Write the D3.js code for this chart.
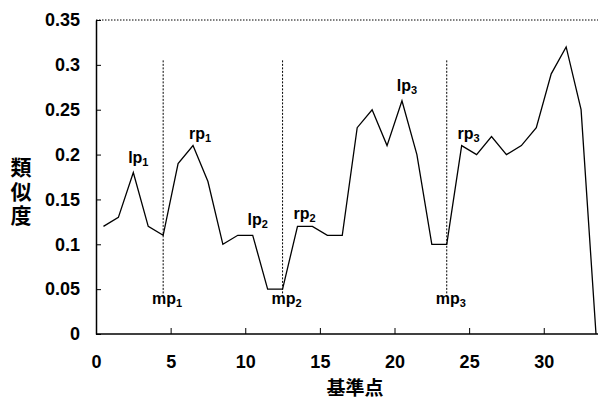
<!DOCTYPE html>
<html>
<head>
<meta charset="utf-8">
<script src="https://cdn.jsdelivr.net/npm/d3@7"></script>
<style>
  body { margin: 0; background: #fff; }
  svg text { font-family: "Liberation Sans", Arial, sans-serif; }
  .cjk { font-family: "Noto Sans CJK JP", sans-serif; font-weight: bold; }
</style>
</head>
<body>
<div id="chart"></div>
<script>
// similarity at each reference point (plotted at i + 0.5)
const points = d3.range(0.5, 34, 1);
const similarity = [0.12, 0.13, 0.18, 0.12, 0.11, 0.19, 0.21, 0.17, 0.10, 0.11,
                    0.11, 0.05, 0.05, 0.12, 0.12, 0.11, 0.11, 0.23, 0.25, 0.21,
                    0.26, 0.20, 0.10, 0.10, 0.21, 0.20, 0.22, 0.20, 0.21, 0.23,
                    0.29, 0.32, 0.25, 0.00];
const xTicks = [0, 5, 10, 15, 20, 25, 30];
const yTicks = [0, 0.05, 0.1, 0.15, 0.2, 0.25, 0.3, 0.35];

// split points (mp) and peaks (lp / rp)
const splitNames = ["1", "2", "3"];
const splitAt = [4.5, 12.5, 23.5];
const splitRange = [0.305, 0.045];
const peakNames = ["lp", "rp", "lp", "rp", "lp", "rp"];
const peakSubs = ["1", "1", "2", "2", "3", "3"];
const peakAt = [2.5, 6.5, 10.5, 13.5, 20.5, 24.5];

const width = 600, height = 401;
const svg = d3.select("#chart").append("svg")
  .attr("width", width)
  .attr("height", height);

const x = d3.scaleLinear().domain([0, 33.5]).range([96, 596]);
const y = d3.scaleLinear().domain([0, 0.35]).range([334, 20]);

// top dotted frame line
svg.append("line")
  .attr("x1", x(0)).attr("x2", 598)
  .attr("y1", y(0.35)).attr("y2", y(0.35))
  .attr("stroke", "#000").attr("stroke-width", 1)
  .attr("stroke-dasharray", "1.5,1.5");

// axes
svg.append("g")
  .attr("transform", `translate(${x(0)},0)`)
  .call(d3.axisLeft(y).tickValues(yTicks)
    .tickSizeInner(-5).tickSizeOuter(0).tickPadding(16)
    .tickFormat(d => String(+d.toFixed(2))));

const xAxis = svg.append("g")
  .attr("transform", `translate(0,${y(0)})`)
  .call(d3.axisBottom(x).tickValues(xTicks)
    .tickSizeInner(-6).tickSizeOuter(0).tickPadding(21));
xAxis.select(".domain").attr("d", `M${x(0)},0H598`);

svg.selectAll(".tick text")
  .attr("font-size", 18)
  .attr("font-weight", "bold")
  .attr("fill", "#000");
svg.selectAll(".domain").attr("stroke-width", 1.5);

// split lines
svg.selectAll(".split")
  .data(splitAt)
  .enter().append("line")
  .attr("class", "split")
  .attr("x1", d => x(d)).attr("x2", d => x(d))
  .attr("y1", y(splitRange[0])).attr("y2", y(splitRange[1]))
  .attr("stroke", "#000").attr("stroke-width", 1)
  .attr("stroke-dasharray", "2,1.5");

// similarity line
const line = d3.line()
  .x((d, i) => x(points[i]))
  .y(d => y(d));

svg.append("path")
  .datum(similarity)
  .attr("fill", "none")
  .attr("stroke", "#000")
  .attr("stroke-width", 1.3)
  .attr("d", line);

// peak labels
const peakOffset = { lp: [5, -10], rp: [7, -7] };
peakAt.forEach((p, i) => {
  const v = similarity[points.indexOf(p)];
  const off = peakOffset[peakNames[i]];
  const t = svg.append("text")
    .attr("x", x(p) + off[0])
    .attr("y", y(v) + off[1])
    .attr("text-anchor", "middle")
    .attr("font-size", 16)
    .attr("font-weight", "bold");
  t.append("tspan").text(peakNames[i]);
  t.append("tspan").attr("font-size", 11).attr("dy", 3).text(peakSubs[i]);
});

// split labels
splitAt.forEach((s, i) => {
  const t = svg.append("text")
    .attr("x", x(s) + 4)
    .attr("y", 304)
    .attr("text-anchor", "middle")
    .attr("font-size", 16)
    .attr("font-weight", "bold");
  t.append("tspan").text("mp");
  t.append("tspan").attr("font-size", 11).attr("dy", 3).text(splitNames[i]);
});

// axis titles
svg.append("text")
  .attr("class", "cjk")
  .attr("x", (x(0) + 596) / 2 + 9)
  .attr("y", 395)
  .attr("text-anchor", "middle")
  .attr("font-size", 19)
  .text("基準点");

svg.append("text")
  .attr("class", "cjk")
  .attr("x", 21)
  .attr("y", 157)
  .attr("writing-mode", "tb")
  .attr("letter-spacing", 3)
  .attr("font-size", 21)
  .text("類似度");
</script>
</body>
</html>
